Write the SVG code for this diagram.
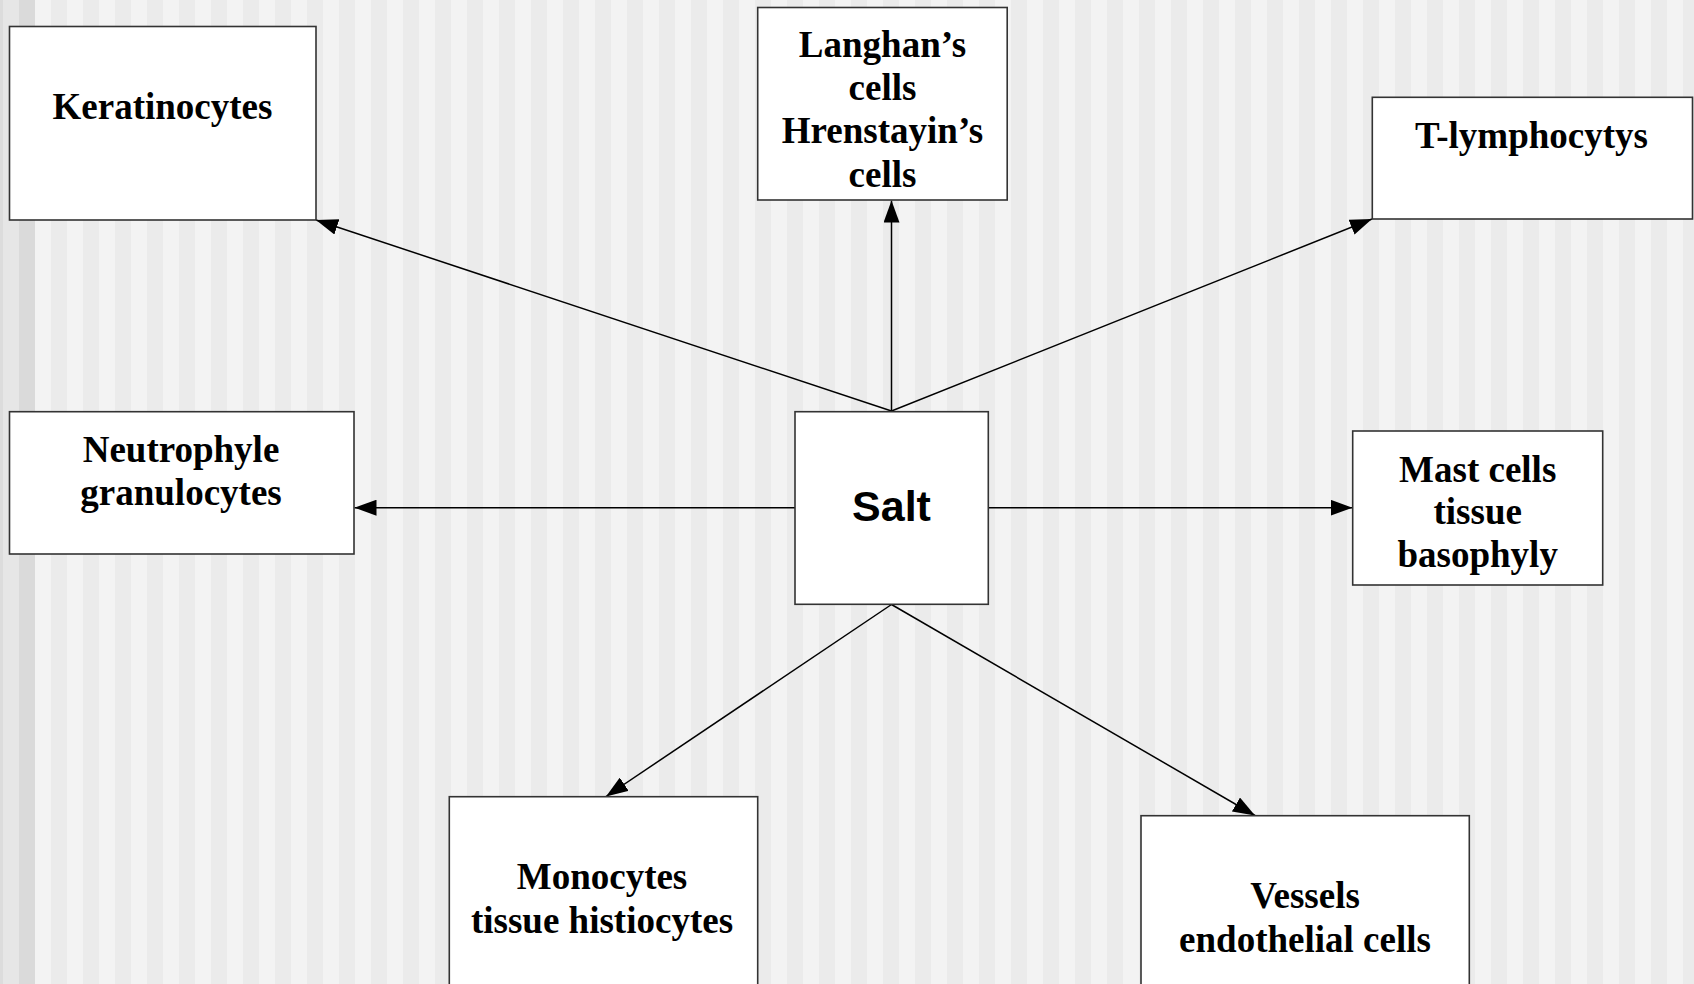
<svg xmlns="http://www.w3.org/2000/svg" width="1694" height="984" viewBox="0 0 1694 984">
  <defs>
    <pattern id="stripes" x="3" y="0" width="32" height="984" patternUnits="userSpaceOnUse">
      <rect x="0" y="0" width="16" height="984" fill="#f3f3f3"/>
      <rect x="16" y="0" width="16" height="984" fill="#ebebeb"/>
    </pattern>
    <marker id="arrow" viewBox="0 0 22 16" refX="22" refY="8" markerWidth="22" markerHeight="16" markerUnits="userSpaceOnUse" orient="auto">
      <path d="M0,0 L22,8 L0,16 z" fill="#000"/>
    </marker>
    <style>
      .box { fill: #ffffff; stroke: #333333; stroke-width: 1.6; }
      .lbl { font-family: "Liberation Serif", "Times New Roman", serif; font-weight: bold; font-size: 37px; fill: #000; text-anchor: middle; }
      .salt { font-family: "Liberation Sans", Arial, sans-serif; font-weight: bold; font-size: 43px; fill: #000; text-anchor: middle; }
      .conn { stroke: #000; stroke-width: 1.5; fill: none; marker-end: url(#arrow); }
    </style>
  </defs>

  <g id="background">
    <rect x="0" y="0" width="1694" height="984" fill="url(#stripes)"/>
    <rect x="0" y="0" width="3" height="984" fill="#dcdcdc"/>
    <rect x="3" y="0" width="16" height="984" fill="#e6e6e6"/>
    <rect x="19" y="0" width="16" height="984" fill="#dadada"/>
  </g>

  <g id="connectors">
    <line class="conn" x1="891.5" y1="411" x2="316" y2="220"/>
    <line class="conn" x1="891.5" y1="411" x2="891.5" y2="200.5"/>
    <line class="conn" x1="891.5" y1="411" x2="1372" y2="219"/>
    <line class="conn" x1="795" y1="507.7" x2="354.5" y2="507.7"/>
    <line class="conn" x1="988.5" y1="507.7" x2="1352.5" y2="507.7"/>
    <line class="conn" x1="891.5" y1="604.5" x2="606" y2="796.5"/>
    <line class="conn" x1="891.5" y1="604.5" x2="1255" y2="815.5"/>
  </g>

  <g id="node-keratinocytes">
    <rect class="box" x="9.5" y="26.5" width="306.5" height="193.5"/>
    <text class="lbl" x="162.5" y="119">Keratinocytes</text>
  </g>

  <g id="node-langhans">
    <rect class="box" x="757.7" y="7.5" width="249.5" height="192.5"/>
    <text class="lbl" x="882.5" y="57">Langhan’s</text>
    <text class="lbl" x="882.5" y="100">cells</text>
    <text class="lbl" x="882.5" y="143">Hrenstayin’s</text>
    <text class="lbl" x="882.5" y="186.5">cells</text>
  </g>

  <g id="node-tlymph">
    <rect class="box" x="1372.3" y="97.3" width="320.2" height="121.7"/>
    <text class="lbl" x="1531.5" y="147.5">T-lymphocytys</text>
  </g>

  <g id="node-neutrophyle">
    <rect class="box" x="9.5" y="411.7" width="344.5" height="142.3"/>
    <text class="lbl" x="181" y="462">Neutrophyle</text>
    <text class="lbl" x="181" y="505">granulocytes</text>
  </g>

  <g id="node-salt">
    <rect class="box" x="795" y="411.7" width="193.3" height="192.6"/>
    <text class="salt" x="891.5" y="521">Salt</text>
  </g>

  <g id="node-mast">
    <rect class="box" x="1352.7" y="431" width="250" height="154"/>
    <text class="lbl" x="1477.7" y="481.5">Mast cells</text>
    <text class="lbl" x="1477.7" y="524">tissue</text>
    <text class="lbl" x="1477.7" y="566.5">basophyly</text>
  </g>

  <g id="node-monocytes">
    <rect class="box" x="449.3" y="796.7" width="308.4" height="200"/>
    <text class="lbl" x="602" y="889">Monocytes</text>
    <text class="lbl" x="602" y="933">tissue histiocytes</text>
  </g>

  <g id="node-vessels">
    <rect class="box" x="1141" y="815.7" width="328.3" height="190"/>
    <text class="lbl" x="1305" y="908">Vessels</text>
    <text class="lbl" x="1305" y="951.5">endothelial cells</text>
  </g>
</svg>
